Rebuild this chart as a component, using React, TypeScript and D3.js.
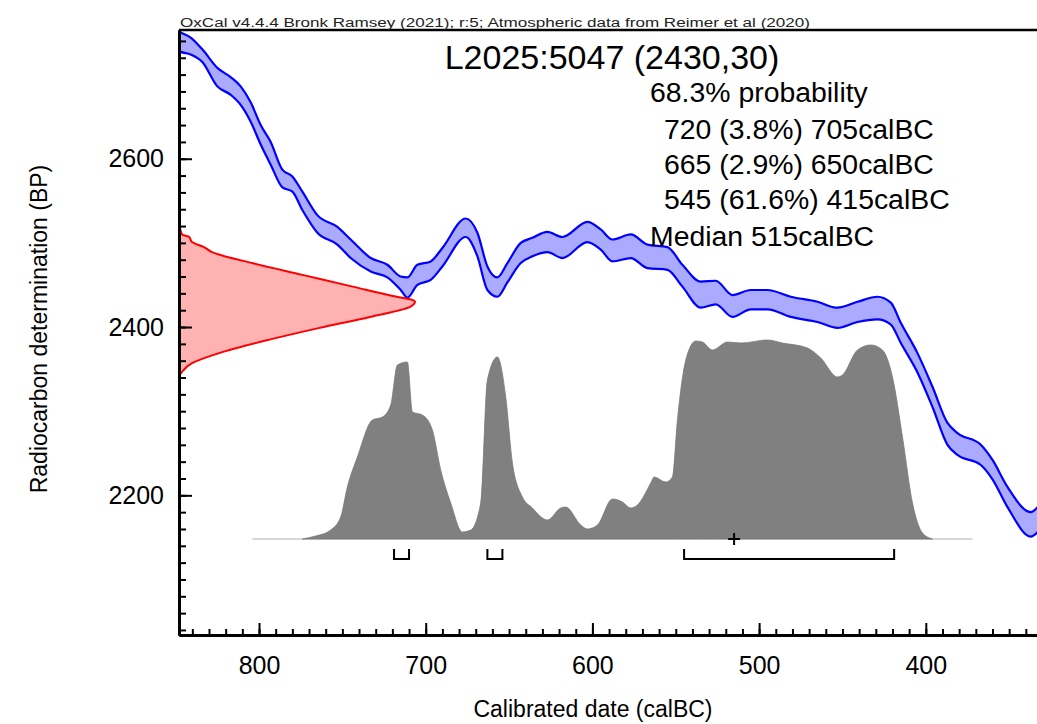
import { useEffect, useRef } from "react"
import * as d3 from "d3"

// calibration curve (IntCal20 band), calBC years with upper / lower BP edges
const CAL_YEARS = [850, 847, 841, 834, 825, 817, 811, 805, 799, 793, 786, 780, 774, 765, 753, 745, 733, 723, 715, 711, 705, 697, 690, 676, 669, 663, 657, 651, 643, 636, 627, 618, 603, 595, 588, 577, 567, 555, 546, 535, 526, 516, 505, 495, 481, 465, 453, 441, 429, 421, 415, 405, 396, 387, 381, 367, 360, 351, 337, 333]
const CAL_UPPER = [2753, 2750, 2744, 2730, 2708, 2697, 2686, 2667, 2640, 2620, 2587, 2579, 2561, 2533, 2519, 2504, 2482, 2474, 2460, 2459, 2474, 2478, 2494, 2529, 2512, 2472, 2459, 2476, 2500, 2506, 2513, 2507, 2525, 2516, 2504, 2510, 2498, 2495, 2474, 2454, 2455, 2438, 2444, 2444, 2436, 2430, 2423, 2430, 2436, 2429, 2405, 2369, 2329, 2286, 2274, 2260, 2242, 2210, 2180, 2186]
const CAL_LOWER = [2730, 2727, 2724, 2715, 2686, 2676, 2664, 2644, 2617, 2593, 2566, 2561, 2539, 2512, 2498, 2482, 2466, 2459, 2444, 2435, 2450, 2456, 2472, 2507, 2484, 2444, 2436, 2453, 2476, 2484, 2489, 2482, 2501, 2492, 2478, 2482, 2470, 2468, 2448, 2423, 2427, 2412, 2421, 2421, 2412, 2406, 2399, 2406, 2409, 2403, 2381, 2346, 2305, 2260, 2248, 2236, 2219, 2186, 2151, 2156]

// calibrated probability distribution (relative)
const DIST_YEARS = [774, 766, 757, 751, 747, 741, 732, 726, 721, 717, 711, 708, 702, 696, 691, 685, 678, 673, 667, 663, 657, 652, 648, 642, 636, 630, 627, 619, 616, 607, 603, 597, 588, 582, 577, 573, 565, 563, 556, 552, 549, 544, 538, 534, 528, 519, 511, 495, 486, 471, 463, 453, 450, 441, 433, 426, 420, 414, 408, 402, 396]
const DIST_PROB = [0, 0.015, 0.045, 0.11, 0.26, 0.41, 0.595, 0.61, 0.67, 0.87, 0.885, 0.635, 0.62, 0.545, 0.345, 0.18, 0.035, 0.045, 0.18, 0.795, 0.91, 0.71, 0.38, 0.21, 0.155, 0.105, 0.095, 0.155, 0.16, 0.07, 0.05, 0.07, 0.2, 0.185, 0.155, 0.17, 0.28, 0.31, 0.285, 0.31, 0.595, 0.895, 0.99, 0.985, 0.945, 0.985, 0.98, 0.995, 0.98, 0.955, 0.905, 0.81, 0.82, 0.945, 0.97, 0.945, 0.81, 0.51, 0.18, 0.03, 0]
const DIST_SPAN = [804, 372]

// radiocarbon measurement 2430 +/- 30 BP (relative density)
const MEAS_BP = [2524, 2510, 2507, 2501, 2495, 2489, 2476, 2462, 2448, 2436, 2433, 2430, 2424, 2412, 2399, 2385, 2369, 2357, 2347, 2341]
const MEAS_DENS = [0, 0.013, 0.043, 0.055, 0.106, 0.14, 0.31, 0.523, 0.736, 0.923, 0.979, 1, 0.979, 0.809, 0.596, 0.383, 0.17, 0.055, 0.013, 0]

// 68.3% ranges as bracketed
const RANGE_FROM = [719, 663, 545]
const RANGE_TO = [710, 654, 419]
const MEDIAN = 515

const X_TICKS = [800, 700, 600, 500, 400]
const Y_TICKS = [2200, 2400, 2600]
const INFO_LINES = ["68.3% probability", "720 (3.8%) 705calBC", "665 (2.9%) 650calBC", "545 (61.6%) 415calBC", "Median 515calBC"]

const FONT = "'Liberation Sans', Arial, Helvetica, sans-serif"

export default function App() {
    const svgRef = useRef(null)

    useEffect(() => {
        draw()
    }, [])

    function draw() {
        const svg = d3.select(svgRef.current)
        svg.selectAll("*").remove()
        svg.attr("font-family", FONT)

        const left = 179, right = 1037, top = 30, bottom = 635
        const x = d3.scaleLinear().domain([848, 333.3]).range([left, right])
        const y = d3.scaleLinear().domain([2034, 2753]).range([bottom, top])
        const dens = d3.scaleLinear().domain([0, 1]).range([left, 415])
        const prob = d3.scaleLinear().domain([0, 1]).range([539, 339])

        svg.append("defs").append("clipPath").attr("id", "plotclip")
            .append("rect").attr("x", left).attr("y", top).attr("width", right - left).attr("height", bottom - top)

        const plot = svg.append("g").attr("clip-path", "url(#plotclip)")

        // calibrated distribution
        const dist = DIST_YEARS.map((d, i) => ({ yr: d, p: DIST_PROB[i] }))
        plot.append("line")
            .attr("x1", x(DIST_SPAN[0])).attr("x2", x(DIST_SPAN[1]))
            .attr("y1", prob(0)).attr("y2", prob(0))
            .attr("stroke", "#b0b0b0").attr("stroke-width", 1)
        plot.append("path")
            .datum(dist)
            .attr("fill", "#808080")
            .attr("stroke", "#7a7a7a")
            .attr("stroke-width", 0.8)
            .attr("d", d3.area().x(d => x(d.yr)).y0(prob(0)).y1(d => prob(d.p)).curve(d3.curveMonotoneX))

        // calibration curve band
        const cal = CAL_YEARS.map((d, i) => ({ yr: d, hi: CAL_UPPER[i], lo: CAL_LOWER[i] }))
        plot.append("path")
            .datum(cal)
            .attr("fill", "#aaaaff")
            .attr("d", d3.area().x(d => x(d.yr)).y0(d => y(d.lo)).y1(d => y(d.hi)).curve(d3.curveMonotoneX))
        for (const key of ["hi", "lo"]) {
            plot.append("path")
                .datum(cal)
                .attr("fill", "none")
                .attr("stroke", "#0000ff")
                .attr("stroke-width", 2.2)
                .attr("d", d3.line().x(d => x(d.yr)).y(d => y(d[key])).curve(d3.curveMonotoneX))
        }

        // measurement distribution on the BP axis
        const meas = MEAS_BP.map((d, i) => ({ bp: d, v: MEAS_DENS[i] }))
        plot.append("path")
            .datum(meas)
            .attr("fill", "#ffaaaa")
            .attr("fill-opacity", 0.9)
            .attr("d", d3.area().y(d => y(d.bp)).x0(dens(0)).x1(d => dens(d.v)).curve(d3.curveMonotoneY))
        plot.append("path")
            .datum(meas)
            .attr("fill", "none")
            .attr("stroke", "#ff0000")
            .attr("stroke-width", 2)
            .attr("d", d3.line().y(d => y(d.bp)).x(d => dens(d.v)).curve(d3.curveMonotoneY))

        // range brackets and median
        RANGE_FROM.forEach((f, i) => {
            const x1 = x(f), x2 = x(RANGE_TO[i])
            svg.append("path")
                .attr("d", `M${x1},549V559H${x2}V549`)
                .attr("fill", "none").attr("stroke", "#000").attr("stroke-width", 2)
        })
        const mx = x(MEDIAN)
        svg.append("path")
            .attr("d", `M${mx - 6},539H${mx + 6}M${mx},533V545`)
            .attr("stroke", "#000").attr("stroke-width", 2)

        // axes
        const xMinor = d3.axisBottom(x).tickValues(d3.range(340, 848, 10)).tickSizeInner(-6).tickSizeOuter(0).tickFormat(() => "")
        const xMajor = d3.axisBottom(x).tickValues(X_TICKS).tickSizeInner(-12).tickSizeOuter(0).tickPadding(21).tickFormat(d3.format("d"))
        const yMinor = d3.axisLeft(y).tickValues(d3.range(2040, 2753, 20)).tickSizeInner(-7).tickSizeOuter(0).tickFormat(() => "")
        const yMajor = d3.axisLeft(y).tickValues(Y_TICKS).tickSizeInner(-13).tickSizeOuter(0).tickPadding(15).tickFormat(d3.format("d"))

        const gx = svg.append("g").attr("transform", `translate(0,${bottom})`)
        gx.append("g").call(xMinor)
        gx.append("g").call(xMajor)
        const gy = svg.append("g").attr("transform", `translate(${left},0)`)
        gy.append("g").call(yMinor)
        gy.append("g").call(yMajor)

        svg.selectAll(".tick line").attr("stroke", "#000").attr("stroke-width", 2)
        svg.selectAll(".domain").attr("stroke", "#000").attr("stroke-width", 3)
        svg.selectAll(".tick text")
            .attr("fill", "#000")
            .attr("font-family", FONT)
            .attr("font-size", 25)

        // top frame line
        svg.append("line")
            .attr("x1", left).attr("x2", right).attr("y1", top).attr("y2", top)
            .attr("stroke", "#000").attr("stroke-width", 2.5)

        // texts
        svg.append("text")
            .attr("x", 180).attr("y", 27)
            .attr("font-size", 12.5)
            .attr("textLength", 630)
            .attr("lengthAdjust", "spacingAndGlyphs")
            .attr("fill", "#222")
            .text("OxCal v4.4.4 Bronk Ramsey (2021); r:5; Atmospheric data from Reimer et al (2020)")

        svg.append("text")
            .attr("x", 612).attr("y", 69)
            .attr("text-anchor", "middle")
            .attr("font-size", 34)
            .text("L2025:5047 (2430,30)")

        const infoX = [650, 664, 664, 664, 650]
        const infoY = [102, 139, 174, 209, 246]
        INFO_LINES.forEach((t, i) => {
            svg.append("text")
                .attr("x", infoX[i]).attr("y", infoY[i])
                .attr("font-size", 28.4)
                .text(t)
        })

        svg.append("text")
            .attr("transform", `translate(47,329) rotate(-90)`)
            .attr("text-anchor", "middle")
            .attr("font-size", 23)
            .text("Radiocarbon determination (BP)")

        svg.append("text")
            .attr("x", 593).attr("y", 717)
            .attr("text-anchor", "middle")
            .attr("font-size", 23)
            .text("Calibrated date (calBC)")
    }

    return (
        <svg ref={svgRef} width={1037} height={724} style={{ position: "absolute", left: 0, top: 0, background: "#fff" }} />
    )
}
